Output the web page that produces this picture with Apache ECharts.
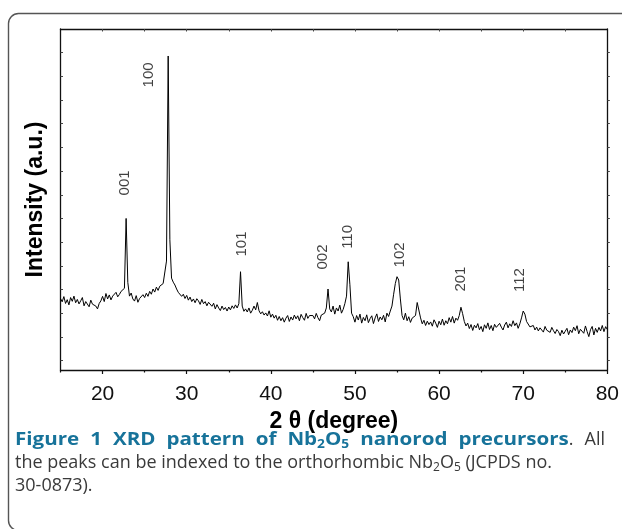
<!DOCTYPE html>
<html>
<head>
<meta charset="utf-8">
<title>XRD pattern of Nb2O5 nanorod precursors</title>
<script src="https://cdn.jsdelivr.net/npm/echarts@6/dist/echarts.min.js"></script>
<style>
  html, body { margin: 0; padding: 0; background: #fff; }
  #chart { width: 622px; height: 529px; }
</style>
</head>
<body>
<div id="chart"></div>
<script>
// scan grid (degrees 2θ)
const thetaStart = 15;
const thetaStep = 0.2;

// intensity (a.u.), one value per step from 15.0 to 80.0
const intensity = [
  362, 348, 370, 341, 357, 335, 366, 350, 372, 344, // 15
  358, 339, 352, 366, 331, 349, 343, 327, 355, 338, // 17
  346, 330, 318, 341, 352, 371, 349, 383, 360, 377, // 19
  356, 372, 364, 388, 369, 379, 392, 385, 405, 700, // 21
  430, 372, 385, 360, 351, 374, 346, 362, 355, 378, // 23
  366, 384, 371, 392, 380, 402, 389, 410, 396, 414, // 25
  408, 425, 417, 520, 1386, 610, 448, 431, 419, 402, // 27
  388, 396, 371, 380, 362, 375, 355, 368, 349, 360, // 29
  344, 361, 352, 337, 358, 340, 349, 331, 346, 338, // 31
  329, 342, 318, 336, 322, 311, 330, 315, 324, 309, // 33
  326, 314, 331, 320, 335, 322, 340, 475, 330, 308, // 35
  318, 305, 322, 300, 312, 330, 314, 345, 310, 297, // 37
  306, 292, 301, 288, 310, 283, 296, 279, 291, 270, // 39
  286, 268, 281, 262, 279, 290, 265, 284, 271, 292, // 41
  276, 289, 268, 295, 281, 270, 299, 278, 290, 283, // 43
  290, 276, 299, 281, 268, 292, 285, 300, 322, 402, // 45
  318, 305, 330, 296, 322, 309, 334, 300, 316, 340, // 47
  372, 517, 420, 300, 285, 262, 290, 271, 296, 258, // 49
  282, 268, 293, 260, 277, 289, 256, 280, 297, 265, // 51
  284, 272, 291, 263, 300, 286, 309, 330, 380, 425, // 53
  454, 440, 360, 290, 272, 300, 268, 285, 261, 279, // 55
  281, 290, 345, 351, 280, 255, 270, 248, 266, 252, // 57
  263, 245, 272, 258, 240, 266, 251, 275, 249, 268, // 59
  255, 281, 262, 286, 258, 279, 270, 290, 325, 298, // 61
  265, 246, 258, 235, 252, 227, 249, 238, 256, 230, // 63
  244, 222, 251, 236, 259, 231, 248, 226, 253, 240, // 65
  233, 257, 241, 229, 250, 262, 238, 255, 244, 268, // 67
  247, 259, 236, 255, 280, 309, 296, 265, 270, 242, // 69
  236, 248, 229, 241, 225, 238, 231, 220, 244, 228, // 71
  233, 219, 240, 226, 214, 231, 222, 205, 228, 212, // 73
  224, 236, 209, 229, 218, 241, 226, 247, 213, 232, // 75
  238, 215, 246, 222, 201, 230, 244, 208, 236, 219, // 77
  240, 225, 248, 222, 243, 231                      // 79
];

const xTickMajor = [20, 30, 40, 50, 60, 70, 80];
const xTickMinor = [15, 25, 35, 45, 55, 65, 75];
const xTickTop = [20, 25, 30, 35, 40, 45, 50, 55, 60, 65, 70, 75];
const yTicks = [100, 200, 300, 400, 500, 600, 700, 800, 900, 1000, 1100, 1200, 1300, 1400];

// peak indices and where their labels sit
const peakHkl = ['001', '100', '101', '002', '110', '102', '201', '112'];
const peakLabelTheta = [22.6, 25.5, 36.6, 46.2, 49.2, 55.3, 62.6, 69.6];
const peakLabelIntensity = [850, 1306, 592, 537, 622, 546, 444, 440];

const chart = echarts.init(document.getElementById('chart'));

const lineData = intensity.map((v, i) => [+(thetaStart + i * thetaStep).toFixed(1), v]);
const labelData = peakHkl.map((h, i) => ({ value: [peakLabelTheta[i], peakLabelIntensity[i]], hkl: h }));

// caption, laid out word by word (first line justified, bold words a bit wider)
const ctx = document.createElement('canvas').getContext('2d');
function measure(text, font) {
  ctx.font = font;
  return ctx.measureText(text).width;
}
const capFont = '18px "Open Sans"';
const capBold = 'bold 18px "Open Sans"';
const subFont = '12px "Open Sans"';
const subBold = 'bold 12px "Open Sans"';
const teal = '#17739a';
const grey = '#3a3a3a';
function piece(text, font, fill, dy) {
  return { text: text, font: font, fill: fill, dy: dy || 0, sx: 1 };
}
const pieceWidth = p => measure(p.text, p.font) * p.sx;
function layLine(words, x0, y, justifyTo, gapWanted) {
  if (justifyTo) {
    // stretch the bold pieces so the word gaps come out near gapWanted
    let boldW = 0, otherW = 0;
    words.forEach(w => w.forEach(p => {
      if (p.font.indexOf('bold') === 0) boldW += measure(p.text, p.font);
      else otherW += measure(p.text, p.font);
    }));
    const s = (justifyTo - x0 - otherW - gapWanted * (words.length - 1)) / boldW;
    words.forEach(w => w.forEach(p => {
      if (p.font.indexOf('bold') === 0) p.sx = s;
    }));
  }
  const widths = words.map(w => w.reduce((acc, p) => acc + pieceWidth(p), 0));
  let gap = measure(' ', capFont);
  if (justifyTo) {
    gap = (justifyTo - x0 - widths.reduce((a, b) => a + b, 0)) / (words.length - 1);
  }
  const out = [];
  let x = x0;
  words.forEach((w, i) => {
    let px = x;
    w.forEach(p => {
      out.push({
        type: 'text',
        silent: true,
        x: px,
        y: y + p.dy,
        scaleX: p.sx,
        style: {
          text: p.text, x: 0, y: 0, font: p.font, fill: p.fill,
          align: 'left', verticalAlign: 'middle',
          textAlign: 'left', textVerticalAlign: 'middle'
        }
      });
      px += pieceWidth(p);
    });
    x += widths[i] + gap;
  });
  return out;
}
const plain = s => s.split(' ').map(t => [piece(t, capFont, grey)]);
const line1 = [
  [piece('Figure', capBold, teal)],
  [piece('1', capBold, teal)],
  [piece('XRD', capBold, teal)],
  [piece('pattern', capBold, teal)],
  [piece('of', capBold, teal)],
  [piece('Nb', capBold, teal), piece('2', subBold, teal, 5), piece('O', capBold, teal), piece('5', subBold, teal, 5)],
  [piece('nanorod', capBold, teal)],
  [piece('precursors', capBold, teal), piece('.', capFont, grey)],
  [piece('All', capFont, grey)]
];
const line2 = plain('the peaks can be indexed to the orthorhombic')
  .concat([[piece('Nb', capFont, grey), piece('2', subFont, grey, 5), piece('O', capFont, grey), piece('5', subFont, grey, 5)]])
  .concat(plain('(JCPDS no.'));
const line3 = plain('30-0873).');

const graphics = [
  {
    type: 'rect',
    silent: true,
    shape: { x: 8.5, y: 13.5, width: 700, height: 517, r: 10 },
    style: { fill: 'none', stroke: '#555', lineWidth: 1.4 }
  }
].concat(layLine(line1, 15, 440, 605, 11), layLine(line2, 15, 463), layLine(line3, 15, 486));

const axisFont = '"Liberation Sans", Arial, sans-serif';

const options = {
  animation: false,
  backgroundColor: '#fff',
  grid: { left: 60.5, right: 11.5, top: 29, bottom: 159 },
  xAxis: [
    {
      type: 'value',
      position: 'bottom',
      min: 15,
      max: 80,
      name: '2 θ (degree)',
      nameLocation: 'middle',
      nameGap: 34,
      nameTextStyle: { fontFamily: axisFont, fontWeight: 'bold', fontSize: 23, color: '#000' },
      axisLine: { show: true, lineStyle: { color: '#111', width: 1.3 } },
      axisTick: { show: true, inside: false, length: 4, customValues: xTickMajor, lineStyle: { color: '#111', width: 1.2 } },
      axisLabel: { customValues: xTickMajor, fontFamily: axisFont, fontSize: 21, color: '#111', margin: 14 },
      splitLine: { show: false }
    },
    {
      type: 'value',
      position: 'bottom',
      min: 15,
      max: 80,
      axisLine: { show: false },
      axisTick: { show: true, inside: false, length: 2.5, customValues: xTickMinor, lineStyle: { color: '#111', width: 1.2 } },
      axisLabel: { show: false },
      splitLine: { show: false }
    },
    {
      type: 'value',
      position: 'top',
      min: 15,
      max: 80,
      axisLine: { show: true, lineStyle: { color: '#111', width: 1.3 } },
      axisTick: { show: true, inside: true, length: 2.5, customValues: xTickTop, lineStyle: { color: '#444', width: 1 } },
      axisLabel: { show: false },
      splitLine: { show: false }
    }
  ],
  yAxis: [
    {
      type: 'value',
      position: 'left',
      min: 60,
      max: 1500,
      name: 'Intensity (a.u.)',
      nameLocation: 'middle',
      nameGap: 13,
      nameTextStyle: { fontFamily: axisFont, fontWeight: 'bold', fontSize: 23, color: '#000' },
      axisLine: { show: true, lineStyle: { color: '#111', width: 1.3 } },
      axisTick: { show: true, inside: true, length: 2.5, customValues: yTicks, lineStyle: { color: '#444', width: 1 } },
      axisLabel: { show: false },
      splitLine: { show: false }
    },
    {
      type: 'value',
      position: 'right',
      min: 60,
      max: 1500,
      axisLine: { show: true, lineStyle: { color: '#111', width: 1.3 } },
      axisTick: { show: true, inside: false, length: 2.5, customValues: yTicks, lineStyle: { color: '#444', width: 1 } },
      axisLabel: { show: false },
      splitLine: { show: false }
    }
  ],
  series: [
    {
      name: 'XRD',
      type: 'line',
      xAxisIndex: 0,
      yAxisIndex: 0,
      data: lineData,
      showSymbol: false,
      symbol: 'none',
      lineStyle: { color: '#000', width: 1 },
      silent: true
    },
    {
      name: 'hkl',
      type: 'scatter',
      xAxisIndex: 0,
      yAxisIndex: 0,
      data: labelData,
      symbolSize: 0,
      silent: true,
      label: {
        show: true,
        position: 'inside',
        rotate: 90,
        formatter: p => p.data.hkl,
        fontFamily: axisFont,
        fontSize: 15,
        color: '#111'
      }
    }
  ],
  graphic: { elements: graphics }
};

chart.setOption(options);

window.addEventListener('resize', () => {
  chart.resize();
});
</script>
</body>
</html>
